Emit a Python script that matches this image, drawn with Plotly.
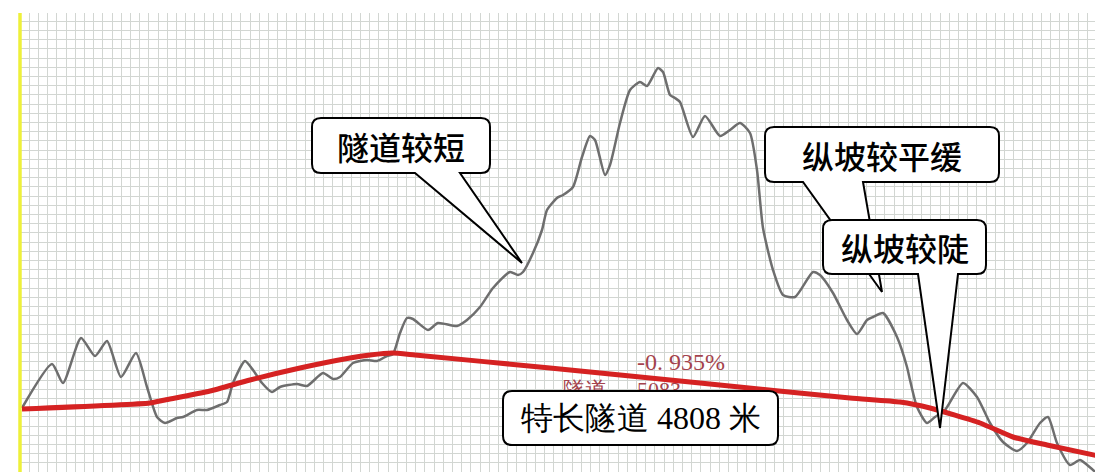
import plotly.graph_objects as go

# ---- data (distance along route in m, elevation in m) ----
ground_dist = [20, 320, 430, 610, 750, 870, 1010, 1160, 1270, 1370, 1450, 1570, 1630, 1770,
               1870, 2000, 2070, 2130, 2250, 2330, 2420, 2520, 2600, 2770, 2870, 3030, 3130,
               3200, 3330, 3470, 3570, 3670, 3730, 3800, 3870, 3930, 4080, 4180, 4370, 4470,
               4600, 4730, 4900, 4980, 5030, 5130, 5220, 5270, 5370, 5430, 5530, 5620, 5700,
               5750, 5850, 5900, 6000, 6100, 6200, 6270, 6380, 6430, 6500, 6550, 6600, 6730,
               6850, 7000, 7100, 7200, 7300, 7370, 7430, 7530, 7630, 7750, 7930, 8000, 8130,
               8270, 8370, 8470, 8530, 8630, 8770, 8870, 8900, 8970, 9070, 9150, 9250, 9430,
               9570, 9700, 9830, 9970, 10070, 10200, 10280, 10370, 10500, 10600, 10730, 10830]
ground_elev = [628, 716, 678, 768, 732, 762, 690, 738, 670, 610, 598, 608, 610, 624,
               624, 634, 640, 678, 722, 704, 678, 660, 670, 676, 672, 698, 686,
               690, 718, 724, 722, 732, 736, 778, 808, 806, 784, 798, 792, 804,
               830, 868, 900, 894, 900, 938, 984, 1024, 1048, 1054, 1070, 1130, 1172,
               1164, 1094, 1114, 1198, 1264, 1280, 1272, 1308, 1300, 1254, 1248, 1240, 1170,
               1212, 1172, 1184, 1198, 1178, 1104, 988, 904, 854, 850, 900, 894, 858,
               804, 776, 804, 810, 818, 770, 710, 684, 630, 598, 610, 624, 678,
               650, 598, 560, 542, 558, 598, 610, 558, 514, 524, 504, 488]

grade_dist = [20, 1300, 1450, 1900, 2300, 2800, 3300, 3500, 3720, 3950, 5300, 6800, 8300,
              8800, 9100, 9600, 9930, 10270, 10830]
grade_elev = [626, 638, 644, 662, 684, 708, 728, 734, 738, 734, 708, 678, 648,
              640, 628, 598, 570, 554, 530]

slope_label = "-0. 935%"
tunnel_label = "特长隧道 4808 米"

# callouts: text, box (x0, x1, y_bottom, y_top), pointer base (bx0, bx1), tip (x, y)
callouts = [
    ("隧道较短", (2920, 4700, 1098, 1208), (3950, 4400), (5020, 918)),
    ("纵坡较平缓", (7450, 9790, 1080, 1190), (7830, 8430), (8620, 860)),
    ("纵坡较陡", (8030, 9660, 896, 1004), (8980, 9380), (9200, 588)),
    (tunnel_label, (4830, 7580, 554, 662), None, None),
]

X_RANGE = [0, 10830]
Y_RANGE = [500, 1418]
RX, RY = 90, 18  # corner radius in data units

fig = go.Figure()

# partially hidden design text under the tunnel label
fig.add_trace(go.Scatter(x=[5650], y=[662], mode="text", text=["隧道"],
                         textfont=dict(size=22, color="#a4434d", family="Liberation Serif"),
                         hoverinfo="skip", showlegend=False))
fig.add_trace(go.Scatter(x=[6170], y=[662], mode="text", text=["5083"],
                         textposition="middle right",
                         textfont=dict(size=22, color="#a4434d", family="Liberation Serif"),
                         hoverinfo="skip", showlegend=False))

fig.add_trace(go.Scatter(x=ground_dist, y=ground_elev, mode="lines",
                         line=dict(color="#6e6e6e", width=2.5, shape="spline", smoothing=0.6),
                         hoverinfo="skip", showlegend=False))
fig.add_trace(go.Scatter(x=grade_dist, y=grade_elev, mode="lines",
                         line=dict(color="#d52222", width=5, shape="spline", smoothing=0.5),
                         hoverinfo="skip", showlegend=False))
fig.add_trace(go.Scatter(x=[6610], y=[716], mode="text", text=[slope_label],
                         textfont=dict(size=24, color="#a4434d", family="Liberation Serif"),
                         hoverinfo="skip", showlegend=False))


def callout_path(box, base, tip):
    x0, x1, yb, yt = box
    p = [f"M {x0+RX},{yt}", f"L {x1-RX},{yt}", f"Q {x1},{yt} {x1},{yt-RY}",
         f"L {x1},{yb+RY}", f"Q {x1},{yb} {x1-RX},{yb}"]
    if base is not None:
        p += [f"L {base[1]},{yb}", f"L {tip[0]},{tip[1]}", f"L {base[0]},{yb}"]
    p += [f"L {x0+RX},{yb}", f"Q {x0},{yb} {x0},{yb+RY}", f"L {x0},{yt-RY}",
          f"Q {x0},{yt} {x0+RX},{yt}", "Z"]
    return " ".join(p)


shapes = [dict(type="line", xref="paper", yref="paper", x0=0, x1=0, y0=0, y1=1,
               line=dict(color="#eef03a", width=3.5), layer="above")]
annotations = []
for text, box, base, tip in callouts:
    shapes.append(dict(type="path", path=callout_path(box, base, tip), xref="x", yref="y",
                       fillcolor="white", line=dict(color="black", width=2), layer="above"))
    if text == tunnel_label:
        fnt = dict(size=32, color="black", family="Liberation Serif")
    else:
        fnt = dict(size=32, color="black", family="Noto Sans CJK SC", weight=500)
    annotations.append(dict(x=(box[0] + box[1]) / 2, y=(box[2] + box[3]) / 2, text=text,
                            showarrow=False, xref="x", yref="y", font=fnt))

axis_common = dict(showgrid=True, gridcolor="#d2d6d2", gridwidth=1, zeroline=False,
                   showticklabels=False, ticks="", showline=False)

# the page body adds an 8px offset, so the figure is sized to the remaining window
fig.update_layout(
    width=1095, height=464,
    margin=dict(l=12, r=0, t=5, b=0),
    paper_bgcolor="white", plot_bgcolor="white",
    xaxis=dict(range=X_RANGE, tick0=0, dtick=92, **axis_common),
    yaxis=dict(range=Y_RANGE, tick0=500, dtick=18.4, **axis_common),
    shapes=shapes, annotations=annotations,
    showlegend=False,
)

fig.write_html("out.html")
